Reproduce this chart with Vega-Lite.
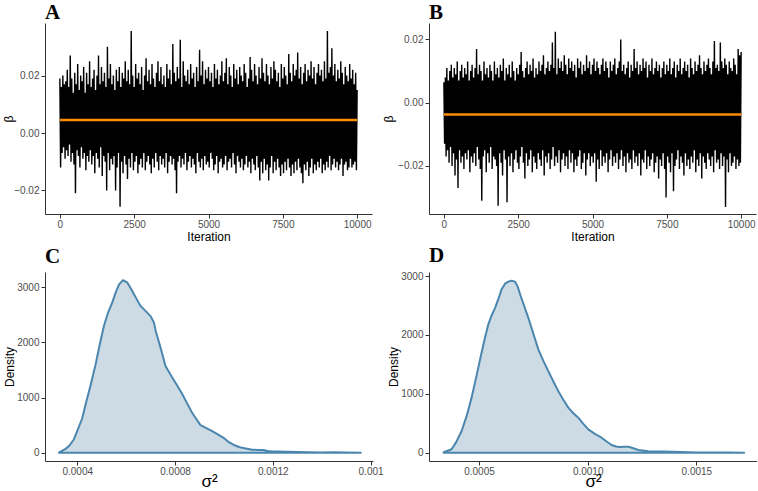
{
  "$schema": "https://vega.github.io/schema/vega-lite/v6.json",
  "background": "white",
  "padding": {"left": 2, "top": 2, "right": 0, "bottom": 0},
  "bounds": "flush",
  "columns": 2,
  "spacing": {"row": 58, "column": 56},
  "config": {
    "view": {"stroke": null},
    "axis": {"grid": false, "domainColor": "#333333", "domainWidth": 1, "tickColor": "#333333", "tickSize": 4, "labelColor": "#4d4d4d", "labelFont": "Liberation Sans", "labelFontSize": 10, "labelPadding": 2, "titleFont": "Liberation Sans", "titleFontSize": 12, "titleFontWeight": "normal", "titleColor": "#000000"},
    "title": {"anchor": "start", "frame": "group", "offset": 5, "font": "Liberation Serif", "fontSize": 21, "fontWeight": "bold", "color": "#000000"}
  },
  "datasets": {
    "traceA": [
{"it":0,"v":0.019},{"it":25,"v":-0.012},{"it":50,"v":0.016},{"it":75,"v":-0.007},{"it":100,"v":0.02},{"it":125,"v":-0.005},{"it":150,"v":0.017},{"it":175,"v":-0.009},{"it":200,"v":0.018},{"it":225,"v":-0.006},
{"it":250,"v":0.022},{"it":275,"v":-0.008},{"it":300,"v":0.016},{"it":325,"v":-0.004},{"it":350,"v":0.027},{"it":375,"v":-0.01},{"it":400,"v":0.019},{"it":425,"v":-0.007},{"it":450,"v":0.014},{"it":475,"v":-0.011},
{"it":500,"v":0.021},{"it":525,"v":-0.021},{"it":550,"v":0.017},{"it":575,"v":-0.006},{"it":600,"v":0.024},{"it":625,"v":-0.008},{"it":650,"v":0.015},{"it":675,"v":-0.012},{"it":700,"v":0.02},{"it":725,"v":-0.005},
{"it":750,"v":0.018},{"it":775,"v":-0.009},{"it":800,"v":0.023},{"it":825,"v":-0.007},{"it":850,"v":0.014},{"it":875,"v":-0.013},{"it":900,"v":0.021},{"it":925,"v":-0.008},{"it":950,"v":0.017},{"it":975,"v":-0.01},
{"it":1000,"v":0.025},{"it":1025,"v":-0.006},{"it":1050,"v":0.016},{"it":1075,"v":-0.011},{"it":1100,"v":0.019},{"it":1125,"v":-0.008},{"it":1150,"v":0.022},{"it":1175,"v":-0.014},{"it":1200,"v":0.015},{"it":1225,"v":-0.007},
{"it":1250,"v":0.02},{"it":1275,"v":-0.009},{"it":1300,"v":0.027},{"it":1325,"v":-0.012},{"it":1350,"v":0.017},{"it":1375,"v":-0.005},{"it":1400,"v":0.023},{"it":1425,"v":-0.015},{"it":1450,"v":0.018},{"it":1475,"v":-0.008},
{"it":1500,"v":0.021},{"it":1525,"v":-0.01},{"it":1550,"v":0.016},{"it":1575,"v":-0.02},{"it":1600,"v":0.03},{"it":1625,"v":-0.007},{"it":1650,"v":0.019},{"it":1675,"v":-0.013},{"it":1700,"v":0.024},{"it":1725,"v":-0.009},
{"it":1750,"v":0.017},{"it":1775,"v":-0.011},{"it":1800,"v":0.02},{"it":1825,"v":-0.008},{"it":1850,"v":0.015},{"it":1875,"v":-0.02},{"it":1900,"v":0.022},{"it":1925,"v":-0.012},{"it":1950,"v":0.018},{"it":1975,"v":-0.007},
{"it":2000,"v":0.023},{"it":2025,"v":-0.0257},{"it":2050,"v":0.016},{"it":2075,"v":-0.01},{"it":2100,"v":0.021},{"it":2125,"v":-0.014},{"it":2150,"v":0.019},{"it":2175,"v":-0.008},{"it":2200,"v":0.025},{"it":2225,"v":-0.011},
{"it":2250,"v":0.018},{"it":2275,"v":-0.016},{"it":2300,"v":0.022},{"it":2325,"v":-0.009},{"it":2350,"v":0.017},{"it":2375,"v":-0.012},{"it":2400,"v":0.0355},{"it":2425,"v":-0.007},{"it":2450,"v":0.02},{"it":2475,"v":-0.013},
{"it":2500,"v":0.016},{"it":2525,"v":-0.01},{"it":2550,"v":0.024},{"it":2575,"v":-0.008},{"it":2600,"v":0.019},{"it":2625,"v":-0.014},{"it":2650,"v":0.021},{"it":2675,"v":-0.011},{"it":2700,"v":0.017},{"it":2725,"v":-0.009},
{"it":2750,"v":0.023},{"it":2775,"v":-0.012},{"it":2800,"v":0.015},{"it":2825,"v":-0.007},{"it":2850,"v":0.02},{"it":2875,"v":-0.013},{"it":2900,"v":0.026},{"it":2925,"v":-0.01},{"it":2950,"v":0.018},{"it":2975,"v":-0.008},
{"it":3000,"v":0.022},{"it":3025,"v":-0.011},{"it":3050,"v":0.017},{"it":3075,"v":-0.014},{"it":3100,"v":0.024},{"it":3125,"v":-0.009},{"it":3150,"v":0.019},{"it":3175,"v":-0.012},{"it":3200,"v":0.016},{"it":3225,"v":-0.007},
{"it":3250,"v":0.021},{"it":3275,"v":-0.01},{"it":3300,"v":0.025},{"it":3325,"v":-0.013},{"it":3350,"v":0.018},{"it":3375,"v":-0.008},{"it":3400,"v":0.023},{"it":3425,"v":-0.011},{"it":3450,"v":0.017},{"it":3475,"v":-0.009},
{"it":3500,"v":0.02},{"it":3525,"v":-0.012},{"it":3550,"v":0.016},{"it":3575,"v":-0.007},{"it":3600,"v":0.024},{"it":3625,"v":-0.014},{"it":3650,"v":0.019},{"it":3675,"v":-0.01},{"it":3700,"v":0.022},{"it":3725,"v":-0.008},
{"it":3750,"v":0.017},{"it":3775,"v":-0.011},{"it":3800,"v":0.031},{"it":3825,"v":-0.009},{"it":3850,"v":0.021},{"it":3875,"v":-0.013},{"it":3900,"v":0.018},{"it":3925,"v":-0.021},{"it":3950,"v":0.023},{"it":3975,"v":-0.01},
{"it":4000,"v":0.019},{"it":4025,"v":-0.008},{"it":4050,"v":0.0325},{"it":4075,"v":-0.012},{"it":4100,"v":0.016},{"it":4125,"v":-0.009},{"it":4150,"v":0.025},{"it":4175,"v":-0.011},{"it":4200,"v":0.02},{"it":4225,"v":-0.007},
{"it":4250,"v":0.018},{"it":4275,"v":-0.013},{"it":4300,"v":0.022},{"it":4325,"v":-0.01},{"it":4350,"v":0.017},{"it":4375,"v":-0.008},{"it":4400,"v":0.024},{"it":4425,"v":-0.012},{"it":4450,"v":0.019},{"it":4475,"v":-0.009},
{"it":4500,"v":0.021},{"it":4525,"v":-0.011},{"it":4550,"v":0.016},{"it":4575,"v":-0.014},{"it":4600,"v":0.023},{"it":4625,"v":-0.007},{"it":4650,"v":0.018},{"it":4675,"v":-0.01},{"it":4700,"v":0.029},{"it":4725,"v":-0.012},
{"it":4750,"v":0.02},{"it":4775,"v":-0.009},{"it":4800,"v":0.025},{"it":4825,"v":-0.013},{"it":4850,"v":0.017},{"it":4875,"v":-0.008},{"it":4900,"v":0.022},{"it":4925,"v":-0.011},{"it":4950,"v":0.019},{"it":4975,"v":-0.01},
{"it":5000,"v":0.023},{"it":5025,"v":-0.012},{"it":5050,"v":0.018},{"it":5075,"v":-0.007},{"it":5100,"v":0.021},{"it":5125,"v":-0.009},{"it":5150,"v":0.016},{"it":5175,"v":-0.013},{"it":5200,"v":0.024},{"it":5225,"v":-0.011},
{"it":5250,"v":0.019},{"it":5275,"v":-0.008},{"it":5300,"v":0.022},{"it":5325,"v":-0.014},{"it":5350,"v":0.017},{"it":5375,"v":-0.01},{"it":5400,"v":0.02},{"it":5425,"v":-0.009},{"it":5450,"v":0.025},{"it":5475,"v":-0.012},
{"it":5500,"v":0.018},{"it":5525,"v":-0.011},{"it":5550,"v":0.021},{"it":5575,"v":-0.008},{"it":5600,"v":0.026},{"it":5625,"v":-0.013},{"it":5650,"v":0.017},{"it":5675,"v":-0.01},{"it":5700,"v":0.023},{"it":5725,"v":-0.009},
{"it":5750,"v":0.02},{"it":5775,"v":-0.012},{"it":5800,"v":0.016},{"it":5825,"v":-0.007},{"it":5850,"v":0.024},{"it":5875,"v":-0.011},{"it":5900,"v":0.019},{"it":5925,"v":-0.014},{"it":5950,"v":0.022},{"it":5975,"v":-0.008},
{"it":6000,"v":0.017},{"it":6025,"v":-0.01},{"it":6050,"v":0.023},{"it":6075,"v":-0.012},{"it":6100,"v":0.02},{"it":6125,"v":-0.009},{"it":6150,"v":0.018},{"it":6175,"v":-0.013},{"it":6200,"v":0.024},{"it":6225,"v":-0.011},
{"it":6250,"v":0.021},{"it":6275,"v":-0.008},{"it":6300,"v":0.016},{"it":6325,"v":-0.012},{"it":6350,"v":0.019},{"it":6375,"v":-0.01},{"it":6400,"v":0.0265},{"it":6425,"v":-0.014},{"it":6450,"v":0.022},{"it":6475,"v":-0.009},
{"it":6500,"v":0.018},{"it":6525,"v":-0.011},{"it":6550,"v":0.024},{"it":6575,"v":-0.013},{"it":6600,"v":0.02},{"it":6625,"v":-0.008},{"it":6650,"v":0.017},{"it":6675,"v":-0.012},{"it":6700,"v":0.023},{"it":6725,"v":-0.0165},
{"it":6750,"v":0.019},{"it":6775,"v":-0.01},{"it":6800,"v":0.026},{"it":6825,"v":-0.014},{"it":6850,"v":0.021},{"it":6875,"v":-0.009},{"it":6900,"v":0.018},{"it":6925,"v":-0.013},{"it":6950,"v":0.024},{"it":6975,"v":-0.011},
{"it":7000,"v":0.02},{"it":7025,"v":-0.0165},{"it":7050,"v":0.017},{"it":7075,"v":-0.012},{"it":7100,"v":0.023},{"it":7125,"v":-0.008},{"it":7150,"v":0.019},{"it":7175,"v":-0.014},{"it":7200,"v":0.025},{"it":7225,"v":-0.01},
{"it":7250,"v":0.022},{"it":7275,"v":-0.013},{"it":7300,"v":0.018},{"it":7325,"v":-0.009},{"it":7350,"v":0.021},{"it":7375,"v":-0.012},{"it":7400,"v":0.016},{"it":7425,"v":-0.015},{"it":7450,"v":0.024},{"it":7475,"v":-0.011},
{"it":7500,"v":0.019},{"it":7525,"v":-0.014},{"it":7550,"v":0.023},{"it":7575,"v":-0.01},{"it":7600,"v":0.02},{"it":7625,"v":-0.013},{"it":7650,"v":0.017},{"it":7675,"v":-0.009},{"it":7700,"v":0.0275},{"it":7725,"v":-0.012},
{"it":7750,"v":0.021},{"it":7775,"v":-0.015},{"it":7800,"v":0.018},{"it":7825,"v":-0.011},{"it":7850,"v":0.024},{"it":7875,"v":-0.014},{"it":7900,"v":0.02},{"it":7925,"v":-0.01},{"it":7950,"v":0.022},{"it":7975,"v":-0.013},
{"it":8000,"v":0.028},{"it":8025,"v":-0.009},{"it":8050,"v":0.019},{"it":8075,"v":-0.012},{"it":8100,"v":0.023},{"it":8125,"v":-0.014},{"it":8150,"v":0.017},{"it":8175,"v":-0.0175},{"it":8200,"v":0.021},{"it":8225,"v":-0.011},
{"it":8250,"v":0.024},{"it":8275,"v":-0.013},{"it":8300,"v":0.018},{"it":8325,"v":-0.01},{"it":8350,"v":0.022},{"it":8375,"v":-0.015},{"it":8400,"v":0.02},{"it":8425,"v":-0.012},{"it":8450,"v":0.025},{"it":8475,"v":-0.009},
{"it":8500,"v":0.019},{"it":8525,"v":-0.014},{"it":8550,"v":0.023},{"it":8575,"v":-0.011},{"it":8600,"v":0.017},{"it":8625,"v":-0.013},{"it":8650,"v":0.021},{"it":8675,"v":-0.01},{"it":8700,"v":0.024},{"it":8725,"v":-0.012},
{"it":8750,"v":0.02},{"it":8775,"v":-0.009},{"it":8800,"v":0.022},{"it":8825,"v":-0.014},{"it":8850,"v":0.018},{"it":8875,"v":-0.011},{"it":8900,"v":0.025},{"it":8925,"v":-0.013},{"it":8950,"v":0.019},{"it":8975,"v":-0.01},
{"it":9000,"v":0.0355},{"it":9025,"v":-0.012},{"it":9050,"v":0.021},{"it":9075,"v":-0.008},{"it":9100,"v":0.023},{"it":9125,"v":-0.013},{"it":9150,"v":0.0295},{"it":9175,"v":-0.011},{"it":9200,"v":0.02},{"it":9225,"v":-0.009},
{"it":9250,"v":0.024},{"it":9275,"v":-0.012},{"it":9300,"v":0.018},{"it":9325,"v":-0.01},{"it":9350,"v":0.022},{"it":9375,"v":-0.013},{"it":9400,"v":0.019},{"it":9425,"v":-0.011},{"it":9450,"v":0.025},{"it":9475,"v":-0.009},
{"it":9500,"v":0.021},{"it":9525,"v":-0.015},{"it":9550,"v":0.017},{"it":9575,"v":-0.011},{"it":9600,"v":0.023},{"it":9625,"v":-0.01},{"it":9650,"v":0.02},{"it":9675,"v":-0.013},{"it":9700,"v":0.018},{"it":9725,"v":-0.012},
{"it":9750,"v":0.024},{"it":9775,"v":-0.009},{"it":9800,"v":0.019},{"it":9825,"v":-0.012},{"it":9850,"v":0.022},{"it":9875,"v":-0.011},{"it":9900,"v":0.017},{"it":9925,"v":-0.01},{"it":9950,"v":0.021},{"it":9975,"v":-0.013},
{"it":10000,"v":0.015}
    ],
    "traceB": [
{"it":0,"v":0.0065},{"it":25,"v":-0.013},{"it":50,"v":0.008},{"it":75,"v":-0.017},{"it":100,"v":0.011},{"it":125,"v":-0.015},{"it":150,"v":0.007},{"it":175,"v":-0.019},{"it":200,"v":0.01},{"it":225,"v":-0.014},
{"it":250,"v":0.012},{"it":275,"v":-0.02},{"it":300,"v":0.008},{"it":325,"v":-0.016},{"it":350,"v":0.011},{"it":375,"v":-0.023},{"it":400,"v":0.009},{"it":425,"v":-0.018},{"it":450,"v":0.013},{"it":475,"v":-0.027},
{"it":500,"v":0.007},{"it":525,"v":-0.015},{"it":550,"v":0.01},{"it":575,"v":-0.019},{"it":600,"v":0.012},{"it":625,"v":-0.017},{"it":650,"v":0.008},{"it":675,"v":-0.021},{"it":700,"v":0.011},{"it":725,"v":-0.016},
{"it":750,"v":0.009},{"it":775,"v":-0.018},{"it":800,"v":0.013},{"it":825,"v":-0.015},{"it":850,"v":0.007},{"it":875,"v":-0.022},{"it":900,"v":0.01},{"it":925,"v":-0.017},{"it":950,"v":0.012},{"it":975,"v":-0.019},
{"it":1000,"v":0.008},{"it":1025,"v":-0.016},{"it":1050,"v":0.011},{"it":1075,"v":-0.02},{"it":1100,"v":0.017},{"it":1125,"v":-0.014},{"it":1150,"v":0.009},{"it":1175,"v":-0.018},{"it":1200,"v":0.012},{"it":1225,"v":-0.021},
{"it":1250,"v":0.01},{"it":1275,"v":-0.031},{"it":1300,"v":0.007},{"it":1325,"v":-0.017},{"it":1350,"v":0.013},{"it":1375,"v":-0.015},{"it":1400,"v":0.009},{"it":1425,"v":-0.022},{"it":1450,"v":0.011},{"it":1475,"v":-0.016},
{"it":1500,"v":0.008},{"it":1525,"v":-0.019},{"it":1550,"v":0.012},{"it":1575,"v":-0.014},{"it":1600,"v":0.01},{"it":1625,"v":-0.021},{"it":1650,"v":0.007},{"it":1675,"v":-0.017},{"it":1700,"v":0.013},{"it":1725,"v":-0.018},
{"it":1750,"v":0.009},{"it":1775,"v":-0.02},{"it":1800,"v":0.011},{"it":1825,"v":-0.0326},{"it":1850,"v":0.008},{"it":1875,"v":-0.016},{"it":1900,"v":0.012},{"it":1925,"v":-0.019},{"it":1950,"v":0.01},{"it":1975,"v":-0.023},
{"it":2000,"v":0.014},{"it":2025,"v":-0.015},{"it":2050,"v":0.007},{"it":2075,"v":-0.018},{"it":2100,"v":0.011},{"it":2125,"v":-0.0315},{"it":2150,"v":0.009},{"it":2175,"v":-0.017},{"it":2200,"v":0.012},{"it":2225,"v":-0.02},
{"it":2250,"v":0.008},{"it":2275,"v":-0.016},{"it":2300,"v":0.013},{"it":2325,"v":-0.022},{"it":2350,"v":0.01},{"it":2375,"v":-0.018},{"it":2400,"v":0.007},{"it":2425,"v":-0.015},{"it":2450,"v":0.011},{"it":2475,"v":-0.019},
{"it":2500,"v":0.009},{"it":2525,"v":-0.021},{"it":2550,"v":0.012},{"it":2575,"v":-0.017},{"it":2600,"v":0.016},{"it":2625,"v":-0.014},{"it":2650,"v":0.01},{"it":2675,"v":-0.019},{"it":2700,"v":0.008},{"it":2725,"v":-0.024},
{"it":2750,"v":0.011},{"it":2775,"v":-0.016},{"it":2800,"v":0.013},{"it":2825,"v":-0.02},{"it":2850,"v":0.009},{"it":2875,"v":-0.018},{"it":2900,"v":0.012},{"it":2925,"v":-0.015},{"it":2950,"v":0.01},{"it":2975,"v":-0.022},
{"it":3000,"v":0.014},{"it":3025,"v":-0.017},{"it":3050,"v":0.008},{"it":3075,"v":-0.019},{"it":3100,"v":0.011},{"it":3125,"v":-0.021},{"it":3150,"v":0.009},{"it":3175,"v":-0.016},{"it":3200,"v":0.013},{"it":3225,"v":-0.018},
{"it":3250,"v":0.01},{"it":3275,"v":-0.02},{"it":3300,"v":0.012},{"it":3325,"v":-0.015},{"it":3350,"v":0.015},{"it":3375,"v":-0.023},{"it":3400,"v":0.009},{"it":3425,"v":-0.017},{"it":3450,"v":0.011},{"it":3475,"v":-0.019},
{"it":3500,"v":0.013},{"it":3525,"v":-0.016},{"it":3550,"v":0.01},{"it":3575,"v":-0.021},{"it":3600,"v":0.012},{"it":3625,"v":-0.018},{"it":3650,"v":0.019},{"it":3675,"v":-0.014},{"it":3700,"v":0.011},{"it":3725,"v":-0.02},
{"it":3750,"v":0.0224},{"it":3775,"v":-0.017},{"it":3800,"v":0.009},{"it":3825,"v":-0.019},{"it":3850,"v":0.014},{"it":3875,"v":-0.015},{"it":3900,"v":0.011},{"it":3925,"v":-0.022},{"it":3950,"v":0.013},{"it":3975,"v":-0.018},
{"it":4000,"v":0.01},{"it":4025,"v":-0.016},{"it":4050,"v":0.015},{"it":4075,"v":-0.02},{"it":4100,"v":0.012},{"it":4125,"v":-0.017},{"it":4150,"v":0.009},{"it":4175,"v":-0.021},{"it":4200,"v":0.014},{"it":4225,"v":-0.015},
{"it":4250,"v":0.011},{"it":4275,"v":-0.019},{"it":4300,"v":0.013},{"it":4325,"v":-0.016},{"it":4350,"v":0.01},{"it":4375,"v":-0.022},{"it":4400,"v":0.012},{"it":4425,"v":-0.018},{"it":4450,"v":0.008},{"it":4475,"v":-0.02},
{"it":4500,"v":0.014},{"it":4525,"v":-0.017},{"it":4550,"v":0.011},{"it":4575,"v":-0.015},{"it":4600,"v":0.013},{"it":4625,"v":-0.021},{"it":4650,"v":0.009},{"it":4675,"v":-0.019},{"it":4700,"v":0.012},{"it":4725,"v":-0.016},
{"it":4750,"v":0.01},{"it":4775,"v":-0.023},{"it":4800,"v":0.015},{"it":4825,"v":-0.018},{"it":4850,"v":0.011},{"it":4875,"v":-0.016},{"it":4900,"v":0.013},{"it":4925,"v":-0.02},{"it":4950,"v":0.009},{"it":4975,"v":-0.017},
{"it":5000,"v":0.012},{"it":5025,"v":-0.019},{"it":5050,"v":0.014},{"it":5075,"v":-0.016},{"it":5100,"v":0.01},{"it":5125,"v":-0.025},{"it":5150,"v":0.013},{"it":5175,"v":-0.018},{"it":5200,"v":0.011},{"it":5225,"v":-0.021},
{"it":5250,"v":0.009},{"it":5275,"v":-0.015},{"it":5300,"v":0.012},{"it":5325,"v":-0.02},{"it":5350,"v":0.014},{"it":5375,"v":-0.017},{"it":5400,"v":0.01},{"it":5425,"v":-0.019},{"it":5450,"v":0.013},{"it":5475,"v":-0.016},
{"it":5500,"v":0.011},{"it":5525,"v":-0.022},{"it":5550,"v":0.008},{"it":5575,"v":-0.018},{"it":5600,"v":0.013},{"it":5625,"v":-0.015},{"it":5650,"v":0.01},{"it":5675,"v":-0.02},{"it":5700,"v":0.012},{"it":5725,"v":-0.017},
{"it":5750,"v":0.014},{"it":5775,"v":-0.019},{"it":5800,"v":0.009},{"it":5825,"v":-0.016},{"it":5850,"v":0.011},{"it":5875,"v":-0.021},{"it":5900,"v":0.013},{"it":5925,"v":-0.018},{"it":5950,"v":0.02},{"it":5975,"v":-0.015},
{"it":6000,"v":0.01},{"it":6025,"v":-0.02},{"it":6050,"v":0.012},{"it":6075,"v":-0.017},{"it":6100,"v":0.009},{"it":6125,"v":-0.022},{"it":6150,"v":0.011},{"it":6175,"v":-0.016},{"it":6200,"v":0.013},{"it":6225,"v":-0.019},
{"it":6250,"v":0.008},{"it":6275,"v":-0.018},{"it":6300,"v":0.012},{"it":6325,"v":-0.021},{"it":6350,"v":0.01},{"it":6375,"v":-0.015},{"it":6400,"v":0.017},{"it":6425,"v":-0.019},{"it":6450,"v":0.011},{"it":6475,"v":-0.017},
{"it":6500,"v":0.013},{"it":6525,"v":-0.02},{"it":6550,"v":0.009},{"it":6575,"v":-0.016},{"it":6600,"v":0.012},{"it":6625,"v":-0.023},{"it":6650,"v":0.01},{"it":6675,"v":-0.018},{"it":6700,"v":0.014},{"it":6725,"v":-0.019},
{"it":6750,"v":0.011},{"it":6775,"v":-0.015},{"it":6800,"v":0.013},{"it":6825,"v":-0.021},{"it":6850,"v":0.008},{"it":6875,"v":-0.017},{"it":6900,"v":0.012},{"it":6925,"v":-0.02},{"it":6950,"v":0.01},{"it":6975,"v":-0.018},
{"it":7000,"v":0.014},{"it":7025,"v":-0.016},{"it":7050,"v":0.009},{"it":7075,"v":-0.022},{"it":7100,"v":0.011},{"it":7125,"v":-0.019},{"it":7150,"v":0.013},{"it":7175,"v":-0.017},{"it":7200,"v":0.01},{"it":7225,"v":-0.024},
{"it":7250,"v":0.012},{"it":7275,"v":-0.018},{"it":7300,"v":0.008},{"it":7325,"v":-0.02},{"it":7350,"v":0.011},{"it":7375,"v":-0.016},{"it":7400,"v":0.013},{"it":7425,"v":-0.021},{"it":7450,"v":0.009},{"it":7475,"v":-0.03},
{"it":7500,"v":0.012},{"it":7525,"v":-0.017},{"it":7550,"v":0.01},{"it":7575,"v":-0.019},{"it":7600,"v":0.014},{"it":7625,"v":-0.022},{"it":7650,"v":0.009},{"it":7675,"v":-0.016},{"it":7700,"v":0.011},{"it":7725,"v":-0.028},
{"it":7750,"v":0.013},{"it":7775,"v":-0.02},{"it":7800,"v":0.008},{"it":7825,"v":-0.018},{"it":7850,"v":0.012},{"it":7875,"v":-0.015},{"it":7900,"v":0.01},{"it":7925,"v":-0.021},{"it":7950,"v":0.014},{"it":7975,"v":-0.017},
{"it":8000,"v":0.009},{"it":8025,"v":-0.019},{"it":8050,"v":0.011},{"it":8075,"v":-0.023},{"it":8100,"v":0.013},{"it":8125,"v":-0.016},{"it":8150,"v":0.01},{"it":8175,"v":-0.02},{"it":8200,"v":0.012},{"it":8225,"v":-0.018},
{"it":8250,"v":0.008},{"it":8275,"v":-0.021},{"it":8300,"v":0.014},{"it":8325,"v":-0.017},{"it":8350,"v":0.011},{"it":8375,"v":-0.019},{"it":8400,"v":0.009},{"it":8425,"v":-0.015},{"it":8450,"v":0.013},{"it":8475,"v":-0.022},
{"it":8500,"v":0.01},{"it":8525,"v":-0.018},{"it":8550,"v":0.012},{"it":8575,"v":-0.02},{"it":8600,"v":0.015},{"it":8625,"v":-0.016},{"it":8650,"v":0.011},{"it":8675,"v":-0.024},{"it":8700,"v":0.009},{"it":8725,"v":-0.017},
{"it":8750,"v":0.013},{"it":8775,"v":-0.019},{"it":8800,"v":0.01},{"it":8825,"v":-0.021},{"it":8850,"v":0.012},{"it":8875,"v":-0.016},{"it":8900,"v":0.014},{"it":8925,"v":-0.018},{"it":8950,"v":0.011},{"it":8975,"v":-0.02},
{"it":9000,"v":0.009},{"it":9025,"v":-0.017},{"it":9050,"v":0.013},{"it":9075,"v":-0.022},{"it":9100,"v":0.0195},{"it":9125,"v":-0.015},{"it":9150,"v":0.011},{"it":9175,"v":-0.019},{"it":9200,"v":0.012},{"it":9225,"v":-0.018},
{"it":9250,"v":0.01},{"it":9275,"v":-0.021},{"it":9300,"v":0.019},{"it":9325,"v":-0.016},{"it":9350,"v":0.013},{"it":9375,"v":-0.02},{"it":9400,"v":0.011},{"it":9425,"v":-0.017},{"it":9450,"v":0.014},{"it":9475,"v":-0.033},
{"it":9500,"v":0.012},{"it":9525,"v":-0.018},{"it":9550,"v":0.009},{"it":9575,"v":-0.022},{"it":9600,"v":0.013},{"it":9625,"v":-0.016},{"it":9650,"v":0.011},{"it":9675,"v":-0.02},{"it":9700,"v":0.01},{"it":9725,"v":-0.019},
{"it":9750,"v":0.014},{"it":9775,"v":-0.017},{"it":9800,"v":0.012},{"it":9825,"v":-0.021},{"it":9850,"v":0.009},{"it":9875,"v":-0.018},{"it":9900,"v":0.017},{"it":9925,"v":-0.02},{"it":9950,"v":0.015},{"it":9975,"v":-0.019},
{"it":10000,"v":0.016}
    ],
    "meanA": [{"x0": 0, "x1": 10000, "m": 0.0045}],
    "meanB": [{"x0": 0, "x1": 10000, "m": -0.0037}],
    "densC": [
{"s":0.000325,"d":0},{"s":0.000328,"d":12},{"s":0.000352,"d":70},{"s":0.000366,"d":120},{"s":0.000386,"d":240},{"s":0.0004,"d":395},{"s":0.00042,"d":620},{"s":0.000434,"d":875},{"s":0.000455,"d":1230},{"s":0.000475,"d":1600},
{"s":0.000492,"d":1960},{"s":0.000509,"d":2295},{"s":0.000526,"d":2540},{"s":0.000543,"d":2720},{"s":0.000557,"d":2900},{"s":0.000571,"d":3050},{"s":0.000587,"d":3125},{"s":0.000605,"d":3080},{"s":0.00062,"d":2970},{"s":0.000632,"d":2870},
{"s":0.000646,"d":2760},{"s":0.000659,"d":2660},{"s":0.00068,"d":2565},{"s":0.0007,"d":2475},{"s":0.000714,"d":2355},{"s":0.000721,"d":2205},{"s":0.000731,"d":2050},{"s":0.000741,"d":1900},{"s":0.000761,"d":1570},{"s":0.000789,"d":1360},
{"s":0.00081,"d":1210},{"s":0.00083,"d":1060},{"s":0.00085,"d":890},{"s":0.00087,"d":725},{"s":0.000887,"d":610},{"s":0.000904,"d":500},{"s":0.00093,"d":440},{"s":0.000952,"d":390},{"s":0.00098,"d":320},{"s":0.001,"d":265},
{"s":0.00102,"d":190},{"s":0.001041,"d":140},{"s":0.001065,"d":100},{"s":0.001089,"d":78},{"s":0.001116,"d":55},{"s":0.00114,"d":50},{"s":0.00116,"d":48},{"s":0.00118,"d":30},{"s":0.0012,"d":20},{"s":0.00122,"d":22},
{"s":0.00126,"d":18},{"s":0.0013,"d":12},{"s":0.00135,"d":8},{"s":0.0014,"d":6},{"s":0.00145,"d":8},{"s":0.0015,"d":4},{"s":0.00156,"d":0}
    ],
    "densD": [
{"s":0.000337,"d":0},{"s":0.00034,"d":12},{"s":0.000374,"d":58},{"s":0.000395,"d":180},{"s":0.00042,"d":368},{"s":0.000443,"d":620},{"s":0.000466,"d":935},{"s":0.00049,"d":1330},{"s":0.000512,"d":1700},{"s":0.000528,"d":1960},
{"s":0.000543,"d":2180},{"s":0.000558,"d":2330},{"s":0.000574,"d":2460},{"s":0.00059,"d":2620},{"s":0.000604,"d":2775},{"s":0.00062,"d":2870},{"s":0.000635,"d":2905},{"s":0.00065,"d":2920},{"s":0.000666,"d":2905},{"s":0.000678,"d":2820},
{"s":0.000689,"d":2690},{"s":0.000708,"d":2490},{"s":0.000727,"d":2290},{"s":0.00075,"d":2020},{"s":0.000773,"d":1755},{"s":0.000796,"d":1560},{"s":0.000819,"d":1385},{"s":0.000842,"d":1210},{"s":0.000865,"d":1045},{"s":0.000888,"d":900},
{"s":0.000911,"d":765},{"s":0.000934,"d":670},{"s":0.000957,"d":595},{"s":0.00098,"d":490},{"s":0.001003,"d":395},{"s":0.001033,"d":320},{"s":0.001064,"d":255},{"s":0.001087,"d":190},{"s":0.00111,"d":130},{"s":0.00113,"d":105},
{"s":0.001149,"d":97},{"s":0.001168,"d":100},{"s":0.001187,"d":100},{"s":0.00121,"d":75},{"s":0.001233,"d":45},{"s":0.00128,"d":25},{"s":0.00135,"d":22},{"s":0.00143,"d":10},{"s":0.0015,"d":5},{"s":0.00158,"d":3},
{"s":0.00165,"d":2},{"s":0.00172,"d":0}
    ]
  },
  "concat": [
    {
      "title": {"text": "A", "offset": 0},
      "width": 327, "height": 191,
      "layer": [
        {
          "data": {"name": "traceA"},
          "mark": {"type": "line", "color": "#000000", "strokeWidth": 1.4, "strokeJoin": "bevel"},
          "encoding": {
            "x": {"field": "it", "type": "quantitative", "scale": {"domain": [-500, 10500], "nice": false, "zero": false}, "axis": {"values": [0, 2500, 5000, 7500, 10000], "format": "d", "title": "Iteration", "labelPadding": 1, "titleY": 17, "titleBaseline": "top"}},
            "y": {"field": "v", "type": "quantitative", "scale": {"domain": [-0.0282, 0.0383], "nice": false, "zero": false}, "axis": {"values": [-0.02, 0, 0.02], "format": ".2f", "title": "β", "titleX": -37, "titleBaseline": "middle"}}
          }
        },
        {
          "data": {"name": "meanA"},
          "mark": {"type": "rule", "color": "#FF8C00", "strokeWidth": 2.5},
          "encoding": {"x": {"field": "x0", "type": "quantitative"}, "x2": {"field": "x1"}, "y": {"field": "m", "type": "quantitative"}}
        }
      ]
    },
    {
      "title": {"text": "B", "offset": 0},
      "width": 327, "height": 191,
      "layer": [
        {
          "data": {"name": "traceB"},
          "mark": {"type": "line", "color": "#000000", "strokeWidth": 1.4, "strokeJoin": "bevel"},
          "encoding": {
            "x": {"field": "it", "type": "quantitative", "scale": {"domain": [-500, 10500], "nice": false, "zero": false}, "axis": {"values": [0, 2500, 5000, 7500, 10000], "format": "d", "title": "Iteration", "labelPadding": 1, "titleY": 17, "titleBaseline": "top"}},
            "y": {"field": "v", "type": "quantitative", "scale": {"domain": [-0.0352, 0.0252], "nice": false, "zero": false}, "axis": {"values": [-0.02, 0, 0.02], "format": ".2f", "title": "β", "titleX": -41, "titleBaseline": "middle"}}
          }
        },
        {
          "data": {"name": "meanB"},
          "mark": {"type": "rule", "color": "#FF8C00", "strokeWidth": 2.5},
          "encoding": {"x": {"field": "x0", "type": "quantitative"}, "x2": {"field": "x1"}, "y": {"field": "m", "type": "quantitative"}}
        }
      ]
    },
    {
      "title": {"text": "C", "offset": 5},
      "width": 328, "height": 189,
      "data": {"name": "densC"},
      "mark": {"type": "area", "fill": "#CDDBE5", "stroke": "#4A86AE", "strokeWidth": 2, "strokeJoin": "round"},
      "encoding": {
        "x": {"field": "s", "type": "quantitative", "scale": {"domain": [0.000268, 0.00161], "nice": false, "zero": false}, "axis": {"values": [0.0004, 0.0008, 0.0012, 0.0016], "labelExpr": "datum.value > 0.0015 ? '0.001' : format(datum.value, '.4f')", "title": "σ²", "titleFontSize": 17, "labelPadding": 1, "titleY": 12, "titleBaseline": "top"}},
        "y": {"field": "d", "type": "quantitative", "scale": {"domain": [-150, 3274], "nice": false, "zero": false}, "axis": {"values": [0, 1000, 2000, 3000], "format": "d", "title": "Density", "titleX": -36, "titleBaseline": "middle"}}
      }
    },
    {
      "title": {"text": "D", "offset": 5},
      "width": 328, "height": 189,
      "data": {"name": "densD"},
      "mark": {"type": "area", "fill": "#CDDBE5", "stroke": "#4A86AE", "strokeWidth": 2, "strokeJoin": "round"},
      "encoding": {
        "x": {"field": "s", "type": "quantitative", "scale": {"domain": [0.00027, 0.001779], "nice": false, "zero": false}, "axis": {"values": [0.0005, 0.001, 0.0015], "format": ".4f", "title": "σ²", "titleFontSize": 17, "labelPadding": 1, "titleY": 12, "titleBaseline": "top"}},
        "y": {"field": "d", "type": "quantitative", "scale": {"domain": [-141, 3068], "nice": false, "zero": false}, "axis": {"values": [0, 1000, 2000, 3000], "format": "d", "title": "Density", "titleX": -36, "titleBaseline": "middle"}}
      }
    }
  ]
}
